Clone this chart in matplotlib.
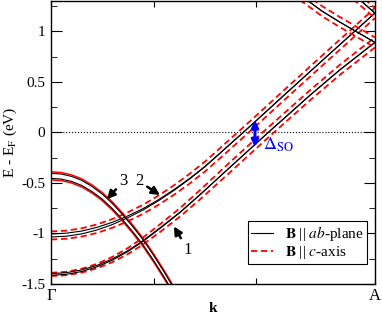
import matplotlib
matplotlib.use("Agg")
import matplotlib.pyplot as plt
import numpy as np

plt.rcParams["font.family"] = ["Liberation Serif", "DejaVu Serif"]
plt.rcParams["mathtext.fontset"] = "stix"
plt.rcParams["axes.unicode_minus"] = False

K_A = 0.316  # position of A along Gamma-A

# band 1 (lower rising band): k, centre energy, half splittings
k1 = [0, 0.015, 0.03, 0.045, 0.06, 0.075, 0.089, 0.106, 0.126, 0.145,
      0.173, 0.199, 0.212, 0.253, 0.282, 0.316]
e1 = [-1.405, -1.396, -1.368, -1.322, -1.257, -1.174, -1.08, -0.95, -0.79, -0.62,
      -0.36, -0.12, 0.0, 0.37, 0.62, 0.89]
ab1 = [0.008, 0.008, 0.008, 0.007, 0.006, 0.005, 0.004, 0.003, 0.002, 0.001,
       0, 0, 0, 0, 0, 0]
c1 = [0.016, 0.017, 0.019, 0.022, 0.026, 0.03, 0.034, 0.038, 0.042, 0.046,
      0.05, 0.05, 0.05, 0.05, 0.05, 0.05]

# band 2 (upper rising band)
k2 = [0, 0.015, 0.03, 0.045, 0.06, 0.075, 0.09, 0.105, 0.12, 0.135, 0.15,
      0.165, 0.187, 0.199, 0.233, 0.27, 0.316]
e2 = [-1.02, -1.012, -0.99, -0.952, -0.90, -0.835, -0.76, -0.67, -0.57, -0.46, -0.34,
      -0.205, -0.005, 0.105, 0.42, 0.76, 1.18]
ab2 = [0.015, 0.015, 0.014, 0.013, 0.011, 0.009, 0.007, 0.005, 0.004, 0.003, 0.002,
       0.001, 0, 0, 0, 0, 0]
c2 = [0.040, 0.040, 0.041, 0.042, 0.043, 0.044, 0.045, 0.046, 0.047, 0.048, 0.049,
      0.05, 0.05, 0.05, 0.05, 0.05, 0.05]

# band 3 (falling band from Gamma)
k3 = [0, 0.01, 0.02, 0.03, 0.04, 0.05, 0.06, 0.07, 0.08, 0.09, 0.10, 0.11, 0.12, 0.13]
e3 = [-0.43, -0.437, -0.46, -0.50, -0.56, -0.635, -0.73, -0.84, -0.96, -1.09,
      -1.24, -1.40, -1.57, -1.75]
ab3 = [0.025] * len(k3)
c3 = [0.040] * len(k3)

# folded partners of bands 1 and 2 near A
km1 = [0.2428, 0.2643, 0.2819, 0.316]
em1 = [1.36, 1.20, 1.09, 0.89]
km2 = [0.29, 0.316]
em2 = [1.41, 1.18]

y_ticks = [-1.5, -1, -0.5, 0, 0.5, 1]
y_labels = ["-1.5", "-1", "-0.5", "0", "0.5", "1"]


def draw_band(ax, k, e, ab, c, red_ls="--"):
    k, e, ab, c = (np.asarray(v, dtype=float) for v in (k, e, ab, c))
    for s in (1, -1):
        if red_ls == "--":
            ax.plot(k, e + s * c, color="red", lw=1.3, dashes=(3.5, 2.0))
        else:
            ax.plot(k, e + s * c, color="red", lw=1.1)
        ax.plot(k, e + s * ab, color="black", lw=0.8)


fig = plt.figure(figsize=(3.82, 3.17), dpi=100)
ax = fig.add_axes([0.1335, 0.104, 0.848, 0.893])

ax.axhline(0, color="black", ls=":", lw=0.8)

draw_band(ax, k1, e1, ab1, c1)
draw_band(ax, k2, e2, ab2, c2)
draw_band(ax, k3, e3, ab3, c3, red_ls="-")
draw_band(ax, km1, em1, [0] * len(km1), [0.05] * len(km1))
draw_band(ax, km2, em2, [0] * len(km2), [0.05] * len(km2))

ax.set_xlim(0, K_A)
ax.set_ylim(-1.5, 1.3)

ax.set_xticks([0, 0.1, 0.2, K_A])
ax.set_xticklabels(["\u0393", "", "", "A"], fontsize=12)
ax.set_yticks(y_ticks)
ax.set_yticklabels(y_labels, fontsize=11)
ax.set_yticks(np.arange(-1.5, 1.3, 0.25), minor=True)
ax.tick_params(axis="both", which="both", direction="in", top=True, right=True)
ax.tick_params(axis="y", which="major", length=8, pad=4)
ax.tick_params(axis="y", which="minor", length=4.5)
ax.tick_params(axis="x", which="major", length=4.5, pad=3)
for sp in ax.spines.values():
    sp.set_linewidth(1.0)

ax.set_ylabel("E - E$_{\\rm F}$ (eV)", fontsize=11, labelpad=2)
ax.set_xlabel("k", fontsize=11, fontweight="bold")
ax.xaxis.set_label_coords(0.5, -0.062)

arrow = dict(arrowstyle="-|>", color="black", lw=1.8, mutation_scale=12,
             shrinkA=1, shrinkB=0)
ax.annotate("3", xy=(0.0545, -0.66), xytext=(0.071, -0.48), fontsize=12,
            ha="center", va="center", arrowprops=arrow)
ax.annotate("2", xy=(0.1063, -0.62), xytext=(0.086, -0.485), fontsize=12,
            ha="center", va="center", arrowprops=arrow)
ax.annotate("1", xy=(0.1199, -0.93), xytext=(0.1335, -1.165), fontsize=12,
            ha="center", va="center", arrowprops=arrow)

ax.annotate("", xy=(0.199, 0.12), xytext=(0.199, -0.145),
            arrowprops=dict(arrowstyle="<|-|>", color="blue", lw=2.2,
                            mutation_scale=10, shrinkA=0, shrinkB=0))
ax.text(0.2065, -0.12, "$\\Delta_{\\rm SO}$", color="blue", fontsize=13,
        ha="left", va="center")

handles = [plt.Line2D([], [], color="black", lw=0.8),
           plt.Line2D([], [], color="red", lw=1.3, dashes=(3.5, 2.0))]
labels = ["$\\mathbf{B}$ || $ab$-plane", "$\\mathbf{B}$ || $c$-axis"]
leg = ax.legend(handles, labels, loc="lower right", bbox_to_anchor=(0.975, 0.07),
                fontsize=11, frameon=True, fancybox=False, framealpha=1,
                edgecolor="black", borderaxespad=0, handlelength=1.4,
                handletextpad=0.8, borderpad=0.2, labelspacing=0.05)
leg.get_frame().set_linewidth(0.8)

fig.savefig("out.png", dpi=100)
